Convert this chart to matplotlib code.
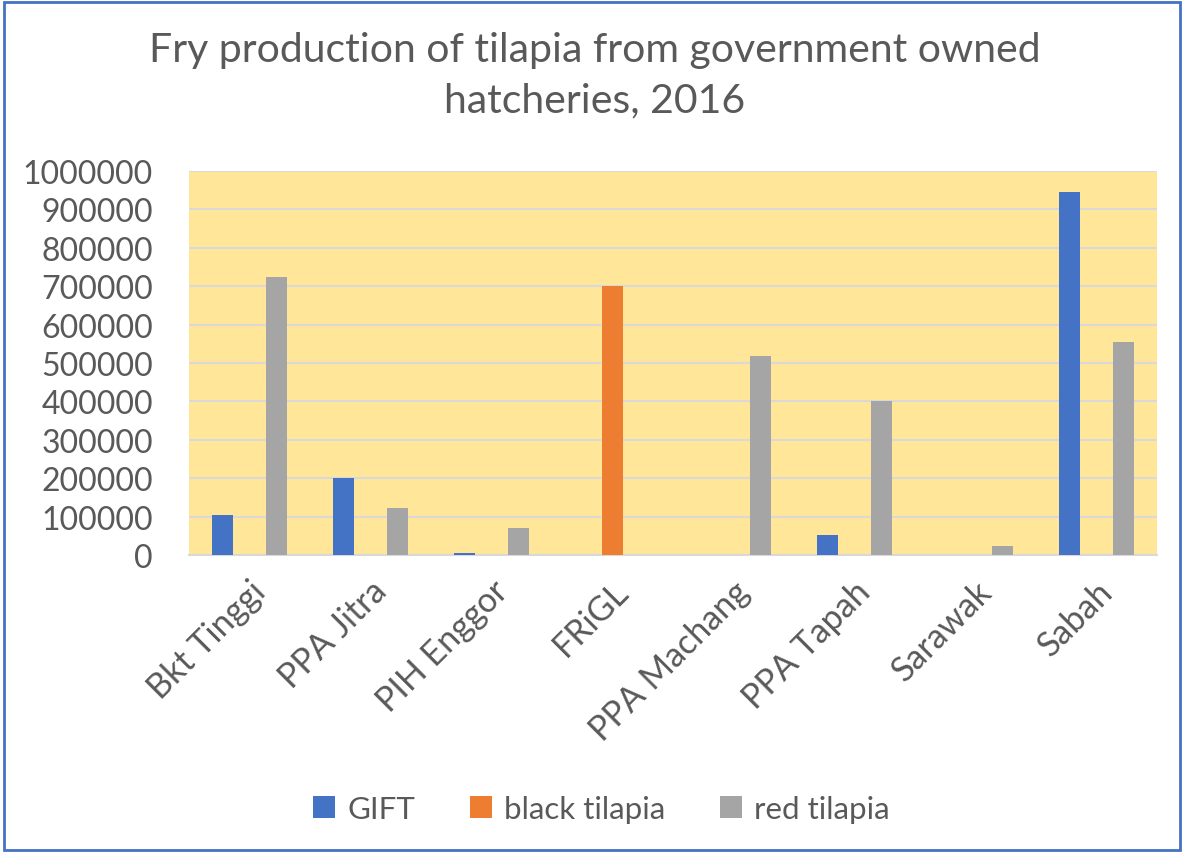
import matplotlib
matplotlib.use('Agg')
import matplotlib.pyplot as plt
import numpy as np
from matplotlib.patches import Rectangle

# data
hatcheries = ['Bkt Tinggi', 'PPA Jitra', 'PIH Enggor', 'FRiGL', 'PPA Machang', 'PPA Tapah', 'Sarawak', 'Sabah']
gift = [104000, 200000, 6000, 0, 0, 53000, 0, 944000]
black_tilapia = [0, 0, 0, 700000, 0, 0, 0, 0]
red_tilapia = [723000, 122000, 69500, 0, 517000, 400000, 22600, 555000]
yticks = [0, 100000, 200000, 300000, 400000, 500000, 600000, 700000, 800000, 900000, 1000000]

plt.rcParams['font.family'] = ['Lato', 'DejaVu Sans']
txt = '#595959'

fig = plt.figure(figsize=(11.84, 8.54), dpi=100)
ax = fig.add_axes([0.1596, 0.349, 0.8174, 0.4496])
ax.set_facecolor('#FFE699')

x = np.arange(len(hatcheries))
w = 0.174
off = 0.223
ax.bar(x - off, gift, w, color='#4472C4', label='GIFT', zorder=3)
ax.bar(x, black_tilapia, w, color='#ED7D31', label='black tilapia', zorder=3)
ax.bar(x + off, red_tilapia, w, color='#A5A5A5', label='red tilapia', zorder=3)

ax.set_xlim(-0.5, len(hatcheries) - 0.5)
ax.set_ylim(0, 1000000)
ax.set_yticks(yticks)
ax.set_yticklabels([str(v) for v in yticks])
ax.yaxis.grid(True, color='#D9D9D9', linewidth=1.5, zorder=0)
ax.set_axisbelow(True)
for s in ['top', 'right', 'left']:
    ax.spines[s].set_visible(False)
ax.spines['bottom'].set_color('#D9D9D9')
ax.spines['bottom'].set_linewidth(1.5)
ax.tick_params(axis='y', length=0, pad=26, labelsize=23, labelcolor=txt)
ax.tick_params(axis='x', length=0, pad=14, labelsize=24.5, labelcolor=txt)
ax.set_xticks(x)
ax.set_xticklabels(hatcheries, rotation=45, ha='right', rotation_mode='anchor')

fig.text(0.5025, 0.962, 'Fry production of tilapia from government owned\nhatcheries, 2016',
         ha='center', va='top', fontsize=29.5, color=txt, linespacing=1.45)

leg = fig.legend(loc='center', bbox_to_anchor=(0.508, 0.052), ncol=3, frameon=False,
                 fontsize=22.5, handlelength=0.7, handleheight=0.7, handletextpad=0.4,
                 columnspacing=1.75, labelcolor=txt)

fig.patches.append(Rectangle((0.003, 0.003), 0.994, 0.993, transform=fig.transFigure,
                             fill=False, edgecolor='#4472C4', linewidth=2))

fig.savefig('out.png', dpi=100)
